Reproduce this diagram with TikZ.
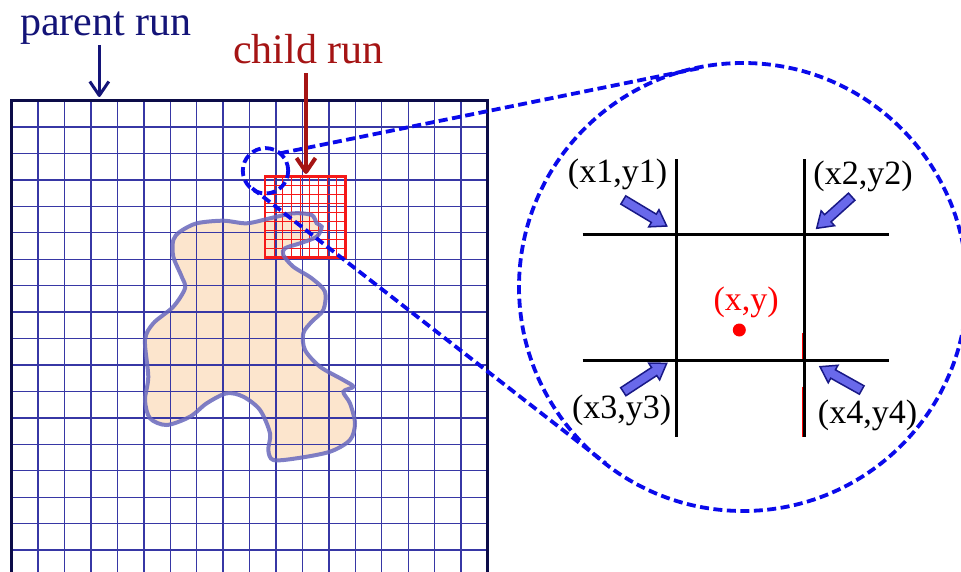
\documentclass[tikz,border=0pt]{standalone}
\usepackage{fontspec}
\setmainfont{Liberation Serif}
\usetikzlibrary{calc,arrows.meta}
\definecolor{gridblue}{RGB}{55,55,165}
\definecolor{navy}{RGB}{20,20,120}
\definecolor{darkred}{RGB}{165,20,20}
\definecolor{peach}{RGB}{252,229,205}
\definecolor{blobline}{RGB}{105,105,190}
\definecolor{dashblue}{RGB}{10,10,235}
\definecolor{arrowfill}{RGB}{105,105,235}
\definecolor{arrowline}{RGB}{25,25,135}
\definecolor{childred}{RGB}{245,25,25}
\newcommand\blockarr[2]{%
  \coordinate (hb) at ($(#2)!15pt!(#1)$);
  \filldraw[fill=arrowfill,draw=arrowline,line width=1.5pt,line join=miter]
    ($(#1)!4.8pt!90:(#2)$) -- ($(hb)!4.8pt!90:(#2)$) -- ($(hb)!10pt!90:(#2)$)
    -- (#2) -- ($(hb)!10pt!-90:(#2)$) -- ($(hb)!4.8pt!-90:(#2)$)
    -- ($(#1)!4.8pt!-90:(#2)$) -- cycle;}
\begin{document}
\begin{tikzpicture}[x=1pt,y=-1pt,
  gridline/.style={gridblue,line width=1.3pt},
  childline/.style={childred,line width=0.9pt},
  zoomdash/.style={dashblue,line width=3.8pt,dash pattern=on 9pt off 4.5pt},
  blackline/.style={black,line width=3pt},
  label/.style={font=\fontsize{34}{40}\selectfont,anchor=base,inner sep=0pt},
  title/.style={font=\fontsize{42}{50}\selectfont,anchor=base,inner sep=0pt}]
\clip (0,0) rectangle (961,572);
\fill[white] (0,0) rectangle (961,572);
% blob
\fill[peach] plot[smooth cycle] coordinates {(180,231.7) (196.7,223.3) (223.3,220.7) (246.7,223.3) (270,218.3) (293.3,213.3) (311.7,215) (316.7,223.3) (321.7,226.7) (316.7,236.7) (300,243.3) (285,248.3) (283.3,255) (293.3,266.7) (311.7,278.3) (325,291.7) (323.3,310) (311.7,321.7) (303.3,333.3) (305,350) (320,366.7) (343.3,380) (353.3,386.7) (343.3,391.7) (350,403.3) (355,423.3) (350,440) (330,451.7) (296.7,458.3) (273.3,460) (268.3,450) (270,433.3) (260,410) (243.3,396.7) (226.7,393.3) (206.7,403.3) (190,416.7) (166.7,425) (150,418.3) (145,400) (148.3,376.7) (145,340) (153.3,323.3) (173.3,306.7) (185,288.3) (181.7,276.7) (173.3,256.7) (173.3,240)};
% parent grid
\foreach \k in {1,...,17} {
  \draw[gridline] (11.7+\k*26.43,100.7) -- (11.7+\k*26.43,576.4);
  \draw[gridline] (11.7,100.7+\k*26.43) -- (487.4,100.7+\k*26.43);
}
\draw[navy!60!black,line width=3pt] (11.7,576.4) -- (11.7,100.7) -- (487.4,100.7) -- (487.4,576.4);
% child grid
\foreach \k in {1,...,8} {
  \draw[childline] (265+\k*8.97,176.7) -- (265+\k*8.97,257.4);
  \draw[childline] (265,176.7+\k*8.97) -- (345.7,176.7+\k*8.97);
}
\draw[childred,line width=2.5pt] (265,176.7) rectangle (345.7,257.4);
% blob outline
\draw[blobline,line width=4pt,opacity=0.85] plot[smooth cycle] coordinates {(180,231.7) (196.7,223.3) (223.3,220.7) (246.7,223.3) (270,218.3) (293.3,213.3) (311.7,215) (316.7,223.3) (321.7,226.7) (316.7,236.7) (300,243.3) (285,248.3) (283.3,255) (293.3,266.7) (311.7,278.3) (325,291.7) (323.3,310) (311.7,321.7) (303.3,333.3) (305,350) (320,366.7) (343.3,380) (353.3,386.7) (343.3,391.7) (350,403.3) (355,423.3) (350,440) (330,451.7) (296.7,458.3) (273.3,460) (268.3,450) (270,433.3) (260,410) (243.3,396.7) (226.7,393.3) (206.7,403.3) (190,416.7) (166.7,425) (150,418.3) (145,400) (148.3,376.7) (145,340) (153.3,323.3) (173.3,306.7) (185,288.3) (181.7,276.7) (173.3,256.7) (173.3,240)};
% zoom circles
\node[zoomdash,draw,circle,minimum size=45.4pt,inner sep=0pt] (small) at (265.5,170.8) {};
\node[zoomdash,draw,circle,minimum size=448pt,inner sep=0pt] (big) at (743,287) {};
\coordinate (u1) at (280,153.3);
\coordinate (u2) at (698.6,68.3);
\coordinate (l1) at (252.2,188.3);
\coordinate (l2) at (605.7,463.3);
\draw[zoomdash] (u1) -- (u2);
\draw[zoomdash] (l1) -- (l2);
% zoomed cell
\coordinate (v1t) at (676.7,159.3); \coordinate (v1b) at (676.7,436.7);
\coordinate (v2t) at (804,159.3);   \coordinate (v2b) at (804,436.7);
\coordinate (h1l) at (582.7,235);   \coordinate (h1r) at (889,235);
\coordinate (h2l) at (582.7,360.7); \coordinate (h2r) at (889,360.7);
\draw[blackline] (v1t) -- (v1b);
\draw[blackline] (v2t) -- (v2b);
\draw[blackline] (h1l) -- (h1r);
\draw[blackline] (h2l) -- (h2r);
\coordinate (r1a) at (802.3,333.3); \coordinate (r1b) at (802.3,359);
\coordinate (r2a) at (802.3,386.7); \coordinate (r2b) at (802.3,436.7);
\draw[red,line width=1pt] (r1a) -- (r1b);
\draw[red,line width=1pt] (r2a) -- (r2b);
\fill[red] (739.3,330) circle (6.5pt);
\node[label,red] (xy) at (746.2,310) {(x,y)};
\node[label] (p1) at (617.5,183) {(x1,y1)};
\node[label] (p2) at (863,185) {(x2,y2)};
\node[label] (p3) at (621.7,418) {(x3,y3)};
\node[label] (p4) at (867.5,423) {(x4,y4)};
\coordinate (a1s) at (623.3,200);   \coordinate (a1e) at (666.7,226);
\coordinate (a2s) at (851.7,196.7); \coordinate (a2e) at (816.7,228.3);
\coordinate (a3s) at (623.3,391.7); \coordinate (a3e) at (666.7,363.3);
\coordinate (a4s) at (861.7,390);   \coordinate (a4e) at (820,366.7);
\blockarr{a1s}{a1e}
\blockarr{a2s}{a2e}
\blockarr{a3s}{a3e}
\blockarr{a4s}{a4e}
% titles
\node[title,navy] (parent) at (105.8,36) {parent run};
\node[title,darkred] (child) at (308.3,63.3) {child run};
\coordinate (pa1) at (99.3,45);  \coordinate (pa2) at (99.3,97);
\coordinate (ca1) at (306,73.3); \coordinate (ca2) at (306,174);
\draw[navy,line width=3pt,-{Straight Barb[length=14pt,width=19pt,line join=round]}] (pa1) -- (pa2);
\draw[darkred,line width=4pt,-{Straight Barb[length=14pt,width=19pt,line join=round]}] (ca1) -- (ca2);
\end{tikzpicture}
\end{document}
